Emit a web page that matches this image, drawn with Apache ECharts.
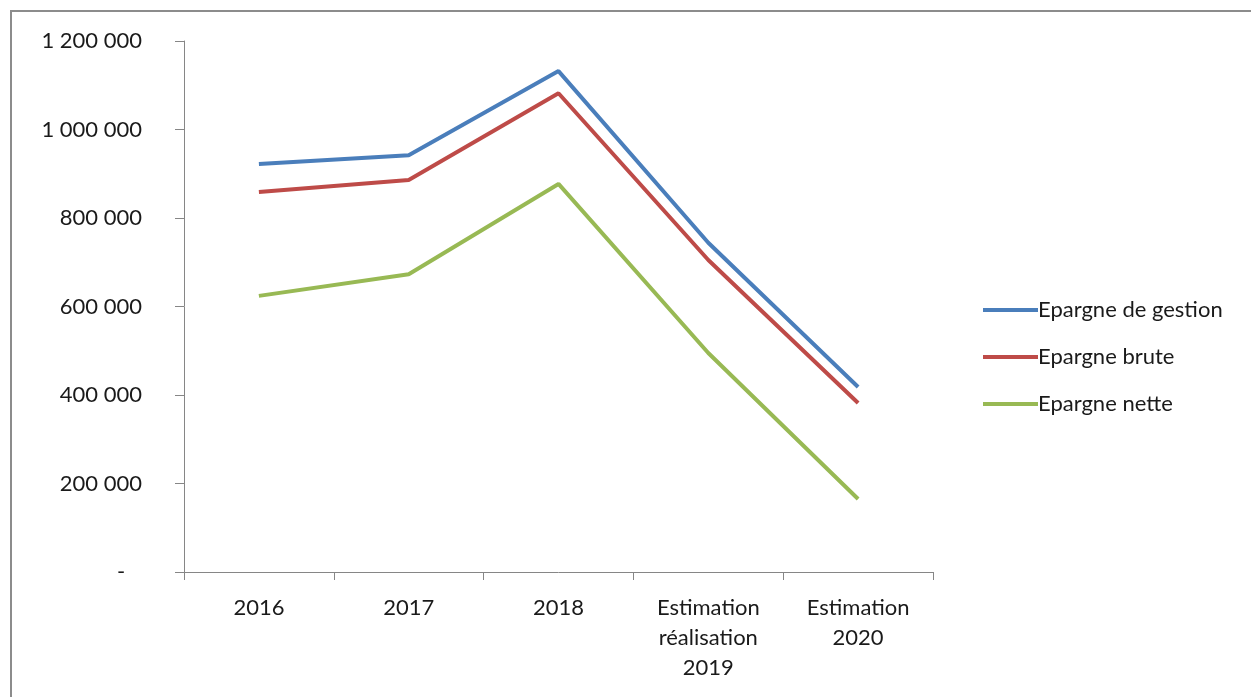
<!DOCTYPE html>
<html>
<head>
<meta charset="utf-8">
<script src="https://cdn.jsdelivr.net/npm/echarts@6/dist/echarts.min.js"></script>
<style>
  html, body { margin: 0; padding: 0; background: #fff; }
  #chart { width: 1251px; height: 697px; }
</style>
</head>
<body>
<div id="chart"></div>
<script>
"use strict";

// catégories et séries
const CATEGORIES = ["2016", "2017", "2018", "Estimation\nréalisation\n2019", "Estimation\n2020"];
const EPARGNE_GESTION = [922000, 942000, 1132000, 744000, 418000];
const EPARGNE_BRUTE = [859000, 886000, 1082000, 705000, 382000];
const EPARGNE_NETTE = [624000, 673000, 877000, 495000, 165000];
const Y_MAX = 1200000;
const Y_STEP = 200000;

const FONT = "Lato, 'Open Sans', sans-serif";
const FS = 22;
const AXIS = "#868686";
const TEXT = "#1a1a1a";

// format comptable: séparateur espace, zéro affiché "-"
const fmtNum = v => v === 0 ? "-   " :
  String(v).replace(/\B(?=(\d{3})+(?!\d))/g, " ");

const lineSeries = (name, data, color) => ({
  name, type: "line", data,
  symbol: "none",
  lineStyle: { color, width: 4 },
  itemStyle: { color }
});

const chart = echarts.init(document.getElementById("chart"));
chart.setOption({
  animation: false,
  textStyle: { fontFamily: FONT },
  graphic: [{
    type: "rect",
    shape: { x: 11, y: 11, width: 1300, height: 760 },
    style: { fill: "none", stroke: "#8c8c8c", lineWidth: 2 }
  }],
  grid: { left: 184, right: 318, top: 41, bottom: 125 },
  legend: {
    orient: "vertical",
    left: 978, top: 294,
    icon: "rect",
    itemWidth: 55, itemHeight: 4,
    itemGap: 25,
    textStyle: { fontFamily: FONT, fontSize: FS, color: TEXT, padding: [0, 0, 0, -5] },
    data: ["Epargne de gestion", "Epargne brute", "Epargne nette"]
  },
  xAxis: {
    type: "category",
    data: CATEGORIES,
    boundaryGap: true,
    axisLine: { lineStyle: { color: AXIS, width: 1 } },
    axisTick: { show: true, length: 8, inside: false, lineStyle: { color: AXIS } },
    axisLabel: {
      color: TEXT, fontFamily: FONT, fontSize: FS, lineHeight: 30,
      margin: 21, interval: 0, align: "center"
    },
    splitLine: { show: false }
  },
  yAxis: {
    type: "value",
    min: 0, max: Y_MAX, interval: Y_STEP,
    axisLine: { show: true, lineStyle: { color: AXIS, width: 1 } },
    axisTick: { show: true, length: 9, lineStyle: { color: AXIS } },
    axisLabel: {
      color: TEXT, fontFamily: FONT, fontSize: FS, margin: 42,
      formatter: fmtNum
    },
    splitLine: { show: false }
  },
  series: [
    lineSeries("Epargne de gestion", EPARGNE_GESTION, "#4a7ebb"),
    lineSeries("Epargne brute", EPARGNE_BRUTE, "#be4b48"),
    lineSeries("Epargne nette", EPARGNE_NETTE, "#98b954")
  ]
});
</script>
</body>
</html>
